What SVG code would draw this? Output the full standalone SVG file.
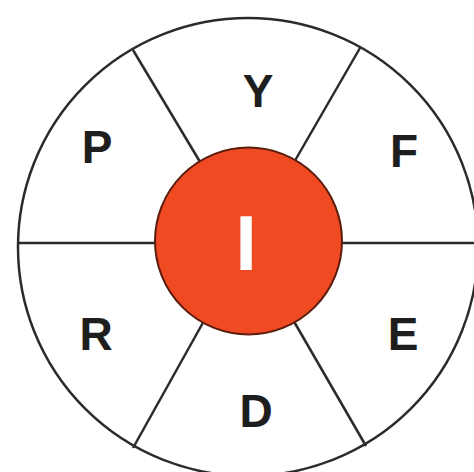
<svg xmlns="http://www.w3.org/2000/svg" width="474" height="472" viewBox="0 0 474 472">
<style>
.ln{stroke:#2b2b2b;stroke-width:2.5;fill:none}
.lbl{font-family:"Liberation Sans",Arial,sans-serif;font-weight:bold;font-size:46px;fill:#1e1e1e;text-anchor:middle}
</style>
<rect width="474" height="472" fill="#ffffff"/>
<g id="outer">
<ellipse cx="248" cy="247" rx="230" ry="229" class="ln"/>
</g>
<g id="connectors">
<line x1="248" y1="242" x2="133" y2="50" class="ln"/>
<line x1="248" y1="242" x2="360" y2="48" class="ln"/>
<line x1="248" y1="242" x2="133" y2="448" class="ln"/>
<line x1="248" y1="242" x2="366" y2="446" class="ln"/>
<line x1="18" y1="243" x2="248" y2="243" class="ln"/>
<line x1="248" y1="243" x2="474" y2="243" class="ln"/>
</g>
<g id="node-Y"><text x="258" y="107" class="lbl">Y</text></g>
<g id="node-P"><text x="97" y="163" class="lbl">P</text></g>
<g id="node-F"><text x="404" y="167" class="lbl">F</text></g>
<g id="node-R"><text x="96" y="350" class="lbl">R</text></g>
<g id="node-E"><text x="403" y="350" class="lbl">E</text></g>
<g id="node-D"><text x="256" y="427" class="lbl">D</text></g>
<g id="node-I">
<circle cx="248.5" cy="241" r="93.5" fill="#ef4a22" stroke="#5a1c0c" stroke-width="2"/>
<text x="246" y="270" font-family="Liberation Sans,Arial,sans-serif" font-weight="bold" font-size="78" fill="#ffffff" text-anchor="middle">I</text>
</g>
</svg>
